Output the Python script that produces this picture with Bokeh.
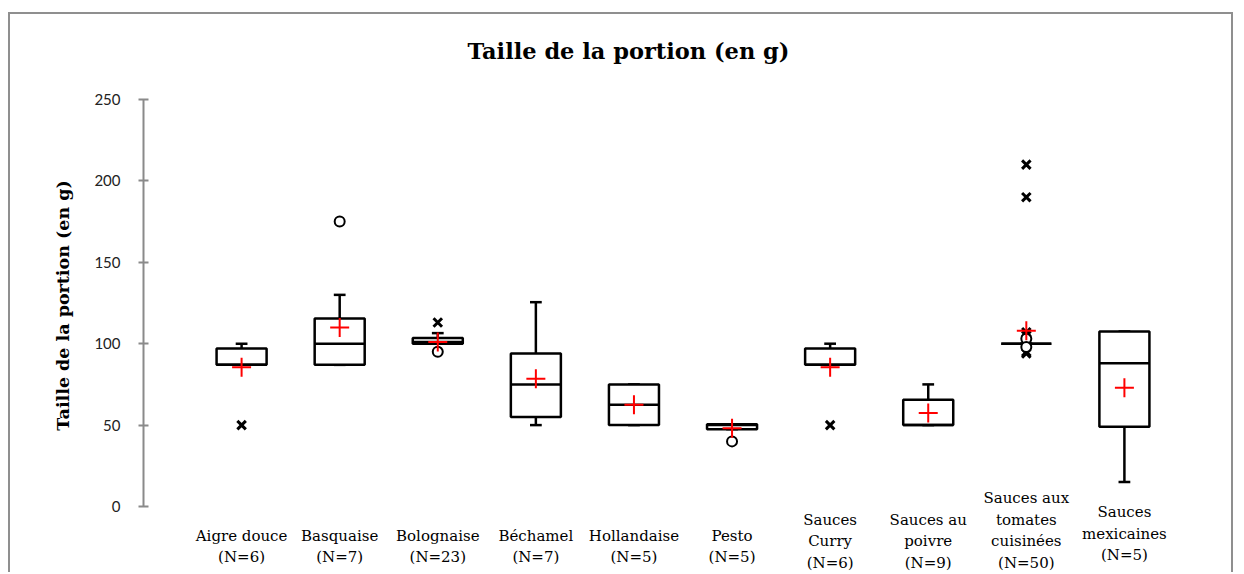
from bokeh.plotting import figure
from bokeh.models import Range1d, FixedTicker, ColumnDataSource, Label
from bokeh.core.properties import value
from bokeh.embed import file_html
from bokeh.resources import INLINE

# ---------------- data ----------------
categories = ["Aigre douce", "Basquaise", "Bolognaise", "Béchamel", "Hollandaise",
              "Pesto", "Sauces Curry", "Sauces au poivre",
              "Sauces aux tomates cuisinées", "Sauces mexicaines"]
tick_labels = ["Aigre douce\n(N=6)", "Basquaise\n(N=7)", "Bolognaise\n(N=23)",
               "Béchamel\n(N=7)", "Hollandaise\n(N=5)", "Pesto\n(N=5)",
               "Sauces\nCurry\n(N=6)", "Sauces au\npoivre\n(N=9)",
               "Sauces aux\ntomates\ncuisinées\n(N=50)", "Sauces\nmexicaines\n(N=5)"]
whisker_low = [87, 87, 100, 50, 50, 47.5, 87, 50, 100, 15]
q1 = [87, 87, 100, 55, 50, 47.5, 87, 50, 100, 49]
median = [87, 100, 101, 75, 62.5, 50, 87, 50, 100, 88]
q3 = [97, 115.5, 103.5, 94, 75, 50.5, 97, 65.5, 100, 107.5]
whisker_high = [100, 130, 106.5, 125.5, 75, 50.5, 100, 75, 100, 107.5]
mean = [85.5, 110, 101, 78.5, 62.5, 48, 85.5, 57.5, 108, 73]

star_cat = ["Aigre douce", "Bolognaise", "Sauces Curry",
            "Sauces aux tomates cuisinées", "Sauces aux tomates cuisinées",
            "Sauces aux tomates cuisinées", "Sauces aux tomates cuisinées",
            "Sauces aux tomates cuisinées", "Sauces aux tomates cuisinées"]
star_val = [50, 113, 50, 210, 190, 107, 105, 95, 94]
circle_cat = ["Basquaise", "Bolognaise", "Pesto",
              "Sauces aux tomates cuisinées", "Sauces aux tomates cuisinées"]
circle_val = [175, 95, 40, 103, 98]

title_text = "Taille de la portion (en g)"
y_title = "Taille de la portion (en g)"
y_ticks = [0, 50, 100, 150, 200, 250]

# ---------------- layout ----------------
pos = {c: i + 1 for i, c in enumerate(categories)}
xs = [pos[c] for c in categories]
half_box = 0.255
half_cap = 0.06

p = figure(width=1225, height=560, output_backend="svg", toolbar_location=None,
           x_axis_location=None, y_axis_location="left",
           x_range=Range1d(0, 11), y_range=Range1d(-41.77, 288.7),
           min_border_left=133, min_border_right=13, min_border_top=22,
           min_border_bottom=0)
p.styles = {"border-top": "2px solid #8f8f8f", "border-left": "2px solid #8f8f8f",
            "border-right": "2px solid #8f8f8f", "margin-top": "12px",
            "margin-left": "8px"}
p.outline_line_color = None
p.grid.visible = False
p.background_fill_color = "white"
p.border_fill_color = "white"

ax = p.yaxis[0]
ax.bounds = (0, 250)
ax.ticker = FixedTicker(ticks=y_ticks)
ax.minor_tick_line_color = None
ax.axis_line_color = "#8a8a8a"
ax.axis_line_width = 2
ax.major_tick_line_color = "#8a8a8a"
ax.major_tick_line_width = 2
ax.major_tick_in = 5
ax.major_tick_out = 5
ax.major_label_text_font = "Lato"
ax.major_label_text_font_size = "15px"
ax.major_label_text_color = "#222222"
ax.major_label_standoff = 18
ax.axis_label = y_title
ax.axis_label_text_font = "DejaVu Serif"
ax.axis_label_text_font_style = "bold"
ax.axis_label_text_font_size = "17.5px"
ax.axis_label_text_color = "black"
ax.axis_label_standoff = 18

src = ColumnDataSource(dict(
    x=xs, left=[x - half_box for x in xs], right=[x + half_box for x in xs],
    cl=[x - half_cap for x in xs], cr=[x + half_cap for x in xs],
    lo=whisker_low, q1=q1, med=median, q3=q3, hi=whisker_high, mean=mean,
))

p.segment(x0="x", y0="q3", x1="x", y1="hi", source=src, line_color="black", line_width=2.5)
p.segment(x0="x", y0="q1", x1="x", y1="lo", source=src, line_color="black", line_width=2.5)
p.segment(x0="cl", y0="hi", x1="cr", y1="hi", source=src, line_color="black", line_width=2.5)
p.segment(x0="cl", y0="lo", x1="cr", y1="lo", source=src, line_color="black", line_width=2.5)
p.quad(left="left", right="right", bottom="q1", top="q3", source=src,
       fill_color="white", line_color="black", line_width=2.5)
p.segment(x0="left", y0="med", x1="right", y1="med", source=src, line_color="black", line_width=2.5)

p.scatter([pos[c] for c in star_cat], star_val, marker="x", size=12,
          line_color="black", line_width=3)
p.scatter([pos[c] for c in circle_cat], circle_val, marker="circle", size=10,
          fill_color="white", line_color="black", line_width=2)
p.scatter(xs, mean, marker="cross", size=19, line_color="red", line_width=2)

# category labels: vertical centre depends on the number of lines
line_counts = [t.count("\n") + 1 for t in tick_labels]
centre_by_lines = {2: -24.6, 3: -21.5, 4: -14.7}
label_v = [centre_by_lines[n] for n in line_counts]
label_v[-1] = -16.6
p.text(x=xs, y=label_v, text=tick_labels, text_align="center", text_baseline="middle",
       text_font=value("DejaVu Serif"), text_font_size="15px",
       text_line_height=1.2, text_color="black")

p.add_layout(Label(x=4.944, y=280.1, text=title_text, text_align="center",
                   text_baseline="middle", text_font="DejaVu Serif",
                   text_font_style="bold", text_font_size="22.5px", text_color="black"))

open("out.html", "w").write(file_html(p, INLINE))
